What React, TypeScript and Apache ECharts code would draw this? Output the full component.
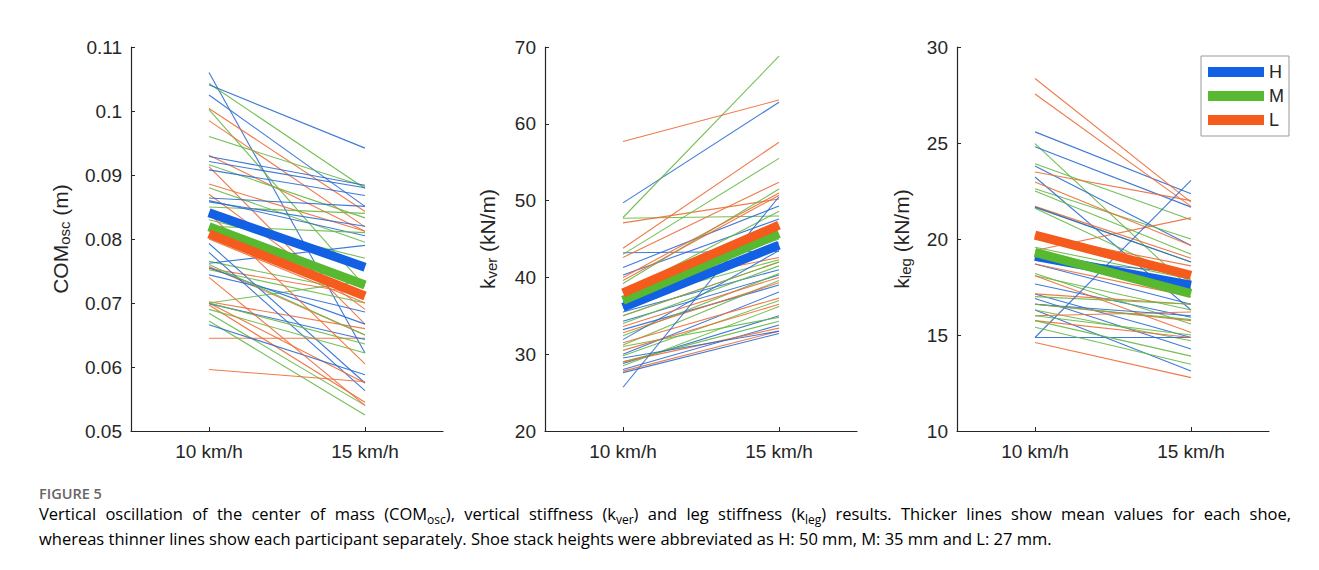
import React, { useEffect, useRef } from "react";
import * as echarts from "echarts";

// ---------- data ----------
const categories = ["10 km/h", "15 km/h"];
const shoes = ["H", "M", "L"];

// COM_osc (m): [10 km/h, 15 km/h] per participant
const comH = [
  [0.106, 0.0622], [0.1041, 0.0942], [0.1025, 0.0851], [0.0929, 0.0884], [0.0921, 0.088],
  [0.0908, 0.0868], [0.0864, 0.0851], [0.0858, 0.082], [0.0793, 0.0575], [0.0779, 0.0563],
  [0.0762, 0.079], [0.0744, 0.0686], [0.0755, 0.0667], [0.0699, 0.0643], [0.0666, 0.0588],
  [0.086, 0.0805],
];
const comM = [
  [0.1043, 0.0879], [0.1002, 0.0726], [0.096, 0.0882], [0.0916, 0.0833], [0.088, 0.0795],
  [0.085, 0.084], [0.083, 0.077], [0.0765, 0.0716], [0.0752, 0.07], [0.07, 0.0735],
  [0.069, 0.0622], [0.0684, 0.054], [0.0672, 0.0525], [0.07, 0.0636], [0.076, 0.065],
  [0.082, 0.081],
];
const comL = [
  [0.1004, 0.0843], [0.0985, 0.0819], [0.0931, 0.0812], [0.0913, 0.0667], [0.0886, 0.0812],
  [0.087, 0.069], [0.0754, 0.0713], [0.0757, 0.065], [0.0702, 0.066], [0.0697, 0.0545],
  [0.07, 0.0575], [0.0645, 0.0645], [0.0596, 0.0577], [0.08, 0.07], [0.084, 0.0605],
  [0.074, 0.054],
];
const comMeanH = [0.0841, 0.0756];
const comMeanM = [0.0819, 0.0728];
const comMeanL = [0.0808, 0.0711];

// k_ver (kN/m)
const kverH = [
  [49.7, 62.8], [43.2, 43.4], [41.3, 49.3], [40.3, 47.6], [36.8, 44.5], [35.5, 41.0],
  [34.3, 40.3], [33.2, 39.0], [31.9, 43.5], [30.0, 38.1], [28.8, 35.0], [28.0, 33.8],
  [27.6, 32.7], [25.7, 50.5], [29.5, 33.0],
];
const kverM = [
  [47.8, 68.8], [47.7, 48.0], [43.0, 55.5], [39.2, 51.5], [38.0, 48.6], [36.8, 42.3],
  [34.0, 41.5], [32.4, 40.5], [31.2, 39.6], [29.8, 37.0], [28.5, 36.2], [31.0, 34.8],
  [29.0, 34.3], [37.5, 45.0], [35.0, 42.0],
];
const kverL = [
  [57.7, 63.1], [47.1, 50.2], [43.8, 57.6], [42.6, 52.4], [40.0, 51.0], [39.6, 50.7],
  [38.5, 42.6], [35.0, 42.0], [33.6, 40.0], [32.8, 39.3], [31.5, 37.3], [30.5, 36.5],
  [29.0, 33.4], [27.8, 33.0], [36.0, 45.5],
];
const kverMeanH = [36.1, 44.2];
const kverMeanM = [37.0, 45.7];
const kverMeanL = [38.0, 46.8];

// k_leg (kN/m)
const klegH = [
  [25.58, 22.36], [24.8, 21.66], [23.8, 19.66], [23.23, 16.3], [19.14, 17.66], [18.7, 16.6],
  [17.66, 15.92], [17.14, 14.87], [16.9, 14.27], [16.3, 13.13], [14.87, 23.05], [14.87, 14.87],
  [19.0, 18.2], [21.66, 18.8], [16.6, 16.0],
];
const klegM = [
  [24.97, 17.4], [23.92, 21.0], [22.62, 20.0], [22.5, 19.2], [21.66, 18.8], [21.6, 17.8],
  [19.57, 17.9], [18.09, 16.3], [18.2, 15.57], [17.0, 16.6], [16.3, 14.7], [16.0, 15.0],
  [15.75, 13.9], [15.4, 13.48], [16.6, 15.8],
];
const klegL = [
  [28.36, 21.92], [27.55, 21.7], [23.49, 22.0], [22.97, 19.66], [19.4, 21.1], [21.7, 19.0],
  [18.7, 17.0], [18.09, 15.13], [17.14, 16.6], [16.61, 15.75], [16.0, 16.2], [15.75, 14.87],
  [14.61, 12.78], [18.9, 17.8], [20.2, 18.6],
];
const klegMeanH = [19.1, 17.6];
const klegMeanM = [19.3, 17.15];
const klegMeanL = [20.2, 18.1];

const yTicksCom = [0.05, 0.11, 0.01];
const yTicksKver = [20, 70, 10];
const yTicksKleg = [10, 30, 5];

// caption: [text, isSubscript]
const captionLine1: [string, boolean][] = [
  ["Vertical oscillation of the center of mass (COM", false],
  ["osc", true],
  ["), vertical stiffness (k", false],
  ["ver", true],
  [") and leg stiffness (k", false],
  ["leg", true],
  [") results. Thicker lines show mean values for each shoe,", false],
];
const captionLine2 =
  "whereas thinner lines show each participant separately. Shoe stack heights were abbreviated as H: 50 mm, M: 35 mm and L: 27 mm.";

// ---------- styling ----------
const thickColors = ["#1260e4", "#58b82f", "#f55b1d"];
const thinColors = ["#2a6bd2", "#66b845", "#ec6d37"];
const axisColor = "#262626";
const fontAxis = "'Liberation Sans', Arial, Helvetica, sans-serif";
const fontCaption = "'Open Sans', 'Noto Sans', sans-serif";
const capSize = 16.5;
const subSize = 12;
const capLeft = 39;
const capRight = 1291;

const panels = [
  {
    groups: [comH, comM, comL],
    means: [comMeanH, comMeanM, comMeanL],
    ticks: yTicksCom,
    name: "{a|COM}{s|osc}{a| (m)}",
    left: 131,
    nameGap: 57,
    fmt: (v: number) => String(parseFloat(v.toFixed(2))),
  },
  {
    groups: [kverH, kverM, kverL],
    means: [kverMeanH, kverMeanM, kverMeanL],
    ticks: yTicksKver,
    name: "{a|k}{s|ver}{a| (kN/m)}",
    left: 545,
    nameGap: 44,
    fmt: (v: number) => String(Math.round(v)),
  },
  {
    groups: [klegH, klegM, klegL],
    means: [klegMeanH, klegMeanM, klegMeanL],
    ticks: yTicksKleg,
    name: "{a|k}{s|leg}{a| (kN/m)}",
    left: 957,
    nameGap: 42,
    fmt: (v: number) => String(Math.round(v)),
  },
];

function buildJustified(parts: [string, boolean][], target: number) {
  const cv = document.createElement("canvas");
  const ctx = cv.getContext("2d")!;
  let natural = 0;
  let spaces = 0;
  ctx.font = `${capSize}px ${fontCaption}`;
  const spaceW = ctx.measureText(" ").width;
  parts.forEach(([txt, sub]) => {
    ctx.font = `${sub ? subSize : capSize}px ${fontCaption}`;
    natural += ctx.measureText(txt).width;
    if (!sub) spaces += (txt.match(/ /g) || []).length;
  });
  const extra = Math.max(0, target - natural);
  const sp = spaces > 0 ? spaceW + extra / spaces : spaceW;
  const str = parts
    .map(([txt, sub]) => {
      if (sub) return `{s|${txt}}`;
      return txt
        .split(" ")
        .map((w) => (w.length ? `{t|${w}}` : ""))
        .join("{sp| }");
    })
    .join("");
  return { str, sp };
}

export default function App() {
  const ref = useRef<HTMLDivElement>(null);

  useEffect(() => {
    if (!ref.current) return;
    const chart = echarts.init(ref.current, null, { renderer: "svg" });

    const grid: any[] = [];
    const xAxis: any[] = [];
    const yAxis: any[] = [];
    const series: any[] = [];

    panels.forEach((p, g) => {
      grid.push({ left: p.left, top: 47, width: 312, height: 384, containLabel: false });
      xAxis.push({
        type: "category",
        gridIndex: g,
        data: categories,
        boundaryGap: true,
        axisLine: { show: true, lineStyle: { color: axisColor, width: 1.2 } },
        axisTick: { show: true, inside: true, alignWithLabel: true, length: 4, lineStyle: { color: axisColor } },
        axisLabel: { fontSize: 19, color: axisColor, fontFamily: fontAxis, margin: 11 },
        splitLine: { show: false },
      });
      yAxis.push({
        type: "value",
        gridIndex: g,
        min: p.ticks[0],
        max: p.ticks[1],
        interval: p.ticks[2],
        axisLine: { show: true, lineStyle: { color: axisColor, width: 1.2 } },
        axisTick: { show: true, inside: true, length: 4, lineStyle: { color: axisColor } },
        axisLabel: { fontSize: 19, color: axisColor, fontFamily: fontAxis, margin: 9, formatter: p.fmt },
        splitLine: { show: false },
        name: p.name,
        nameLocation: "middle",
        nameRotate: 90,
        nameGap: p.nameGap,
        nameTextStyle: {
          color: axisColor,
          fontFamily: fontAxis,
          rich: {
            a: { fontSize: 21, fontFamily: fontAxis, color: axisColor, lineHeight: 28, verticalAlign: "middle" },
            s: { fontSize: 15, fontFamily: fontAxis, color: axisColor, lineHeight: 28, verticalAlign: "bottom", padding: [0, 0, 2, 0] },
          },
        },
      });

      const maxLen = Math.max(...p.groups.map((gr) => gr.length));
      for (let i = 0; i < maxLen; i++) {
        p.groups.forEach((gr, k) => {
          if (!gr[i]) return;
          series.push({
            type: "line",
            name: `${shoes[k]}-${g}-${i}`,
            xAxisIndex: g,
            yAxisIndex: g,
            data: gr[i],
            symbol: "none",
            silent: true,
            z: 2,
            lineStyle: { color: thinColors[k], width: 1.1, opacity: 0.9 },
            itemStyle: { color: thinColors[k] },
          });
        });
      }
      p.means.forEach((m, k) => {
        series.push({
          type: "line",
          name: shoes[k],
          xAxisIndex: g,
          yAxisIndex: g,
          data: m,
          symbol: "none",
          silent: true,
          z: 3 + k,
          lineStyle: { color: thickColors[k], width: 9, cap: "butt" },
          itemStyle: { color: thickColors[k] },
        });
      });
    });

    const line1 = buildJustified(captionLine1, capRight - capLeft);

    const captionRich = {
      t: { fontSize: capSize, fontFamily: fontCaption, color: "#5a5a5a", lineHeight: 24, verticalAlign: "middle" },
      s: { fontSize: subSize, fontFamily: fontCaption, color: "#5a5a5a", lineHeight: 24, verticalAlign: "bottom" },
      sp: { fontSize: capSize, fontFamily: fontCaption, lineHeight: 24, width: line1.sp },
    };

    chart.setOption({
      animation: false,
      backgroundColor: "#ffffff",
      tooltip: { show: false },
      legend: {
        data: shoes,
        orient: "vertical",
        left: 1201,
        top: 56,
        padding: [6, 5, 6, 7],
        itemGap: 4,
        itemWidth: 56,
        itemHeight: 10,
        icon: "rect",
        borderColor: "#9a9a9a",
        borderWidth: 1,
        backgroundColor: "#ffffff",
        selectedMode: false,
        textStyle: { fontSize: 18, color: axisColor, fontFamily: fontAxis, lineHeight: 20, padding: [0, 0, 0, 0] },
      },
      grid,
      xAxis,
      yAxis,
      series,
      graphic: [
        { type: "line", z: 10, shape: { x1: 7, y1: 3, x2: 7, y2: 570 }, style: { stroke: "#c4c4c4", lineWidth: 1.5 } },
        { type: "line", z: 10, shape: { x1: 7, y1: 3, x2: 1319, y2: 3 }, style: { stroke: "#c4c4c4", lineWidth: 1.5 } },
        {
          type: "text",
          left: capLeft,
          top: 486,
          style: { text: "FIGURE 5", fontSize: 14.5, fontWeight: 600, fill: "#666666", fontFamily: fontCaption },
        },
        {
          type: "text",
          left: capLeft,
          top: 505,
          style: { text: line1.str, rich: captionRich },
        },
        {
          type: "text",
          left: capLeft,
          top: 530,
          style: { text: `{t|${captionLine2}}`, rich: captionRich },
        },
      ],
    });

    return () => chart.dispose();
  }, []);

  return (
    <div
      ref={ref}
      style={{ margin: "-8px", width: 1319, height: 570, background: "#fff" }}
    />
  );
}
